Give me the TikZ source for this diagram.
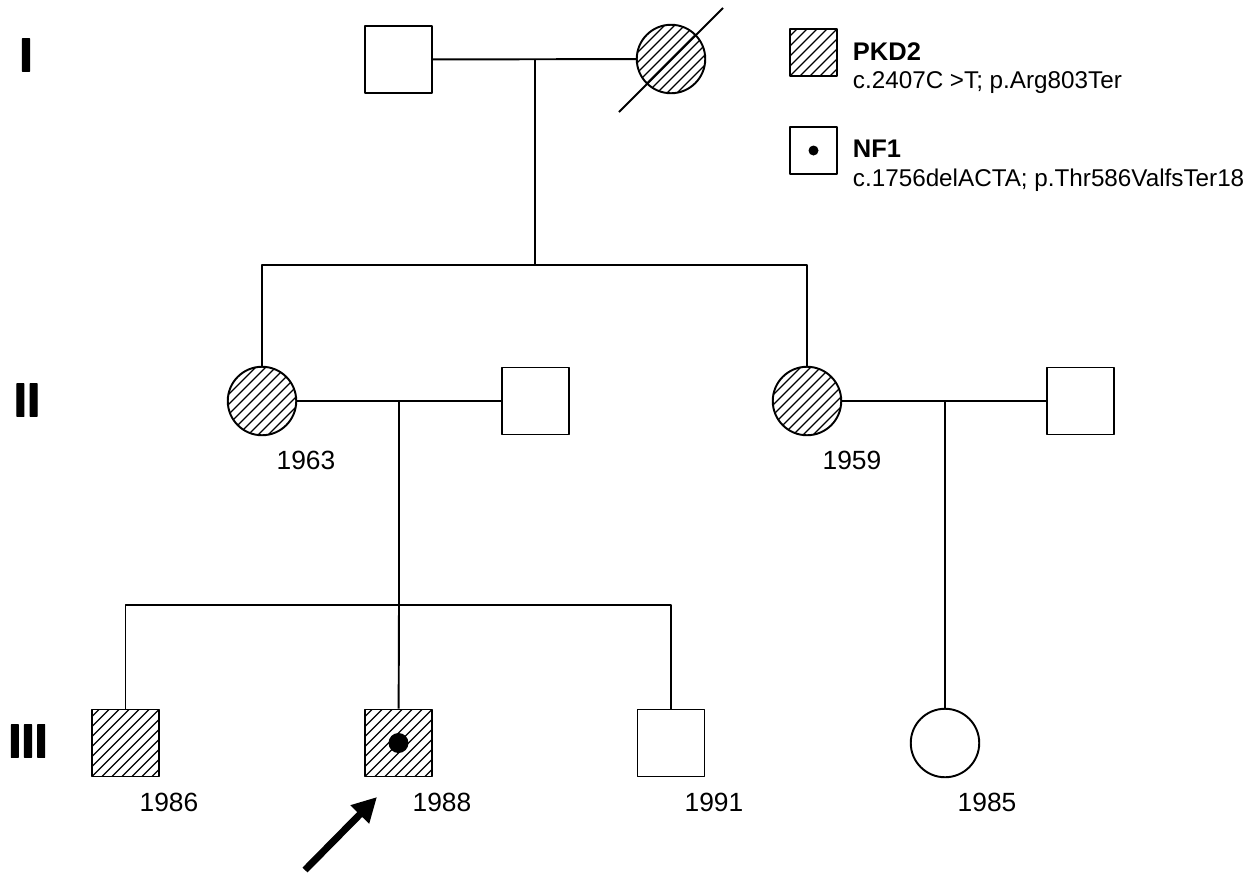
\documentclass[tikz,border=0pt]{standalone}
\usepackage{fontspec}
\setmainfont{Liberation Sans}
\newfontfamily\genfont[FakeBold=2.5]{Liberation Sans Bold}
\usetikzlibrary{arrows.meta}
\tikzset{
  male/.style={draw, rectangle, line width=1.1pt, minimum size=1.34cm, inner sep=0pt},
  female/.style={draw, circle, line width=1.1pt, minimum size=1.37cm, inner sep=0pt},
  affected/.style={path picture={
      \foreach \k in {-8,...,8}
        \draw[line width=0.7pt] ([xshift=\k*0.2cm]path picture bounding box.center)
          ++(-1.1cm,-1.1cm) -- ++(2.2cm,2.2cm);
    }},
  year/.style={font=\fontsize{15}{18}\selectfont},
  gen/.style={font=\fontsize{27}{30}\genfont},
  keytext/.style={anchor=base west, inner sep=0pt, font=\fontsize{13.8}{16}\selectfont},
}
\begin{document}
\begin{tikzpicture}[x=0.02cm, y=-0.02cm, line width=1.1pt, line join=round]
  \useasboundingbox (0,0) rectangle (1255,873);
  % generation labels
  \node[gen] (genI)   at (26,55)  {I};
  \node[gen] (genII)  at (27,400) {II};
  \node[gen] (genIII) at (28,741) {III};
  % generation I
  \node[male] (g1m) at (398.5,59.5) {};
  \node[female, affected] (g1f) at (671,59) {};
  \draw (g1f.center) ++(-52,53) -- ++(104,-104);
  \path (535,60) coordinate (m1) (535,265) coordinate (s1);
  \draw (g1m) -- (g1f);
  \draw (m1) -- (s1);
  % generation II
  \node[female, affected] (g2a) at (262,401) {};
  \node[male] (g2b) at (535.5,401) {};
  \node[female, affected] (g2c) at (807,401) {};
  \node[male] (g2d) at (1080.5,401) {};
  \node[year] (y2a) at (306,460) {1963};
  \node[year] (y2c) at (852,460) {1959};
  \draw (g2a.north) |- (s1) -| (g2c.north);
  \path (399,401) coordinate (m2) (399,605) coordinate (s2)
        (945,401) coordinate (m3);
  \draw (g2a) -- (g2b);
  \draw (g2c) -- (g2d);
  \draw (m2) -- (s2);
  % generation III
  \node[male, affected] (g3a) at (125.5,743) {};
  \node[male, affected] (g3b) at (398.5,743) {};
  \node[male] (g3c) at (671,743) {};
  \node[female] (g3d) at (945,743) {};
  \fill (g3b.center) circle (0.2cm);
  \draw (g3a.north) |- (s2) -| (g3c.north);
  \draw (s2) -- (g3b);
  \draw (m3) -- (g3d);
  \foreach \n/\x/\t in {a/169/1986, b/442/1988, c/714/1991, d/987/1985}{
    \node[year] (y3\n) at (\x,802) {\t};
  }
  % proband
  \coordinate (ptail) at (305,870);
  \coordinate (ptip) at (377,797);
  \draw[line width=4pt, -{Triangle[length=14pt 0,width=14pt 0]}] (ptail) -- (ptip);
  % legend
  \node[male, affected, minimum size=0.94cm] (keyA) at (813.5,52.5) {};
  \node[male, minimum size=0.94cm] (keyB) at (813.5,150.5) {};
  \fill (keyB.center) circle (0.1cm);
  \node[keytext, font=\fontsize{14.5}{16}\selectfont\bfseries] (kA) at (852,60) {PKD2};
  \node[keytext] (kAt) at (852,88) {c.2407C >T; p.Arg803Ter};
  \node[keytext, font=\fontsize{14.5}{16}\selectfont\bfseries] (kB) at (852,157) {NF1};
  \node[keytext] (kBt) at (852,186) {c.1756delACTA; p.Thr586ValfsTer18};
\end{tikzpicture}
\end{document}
